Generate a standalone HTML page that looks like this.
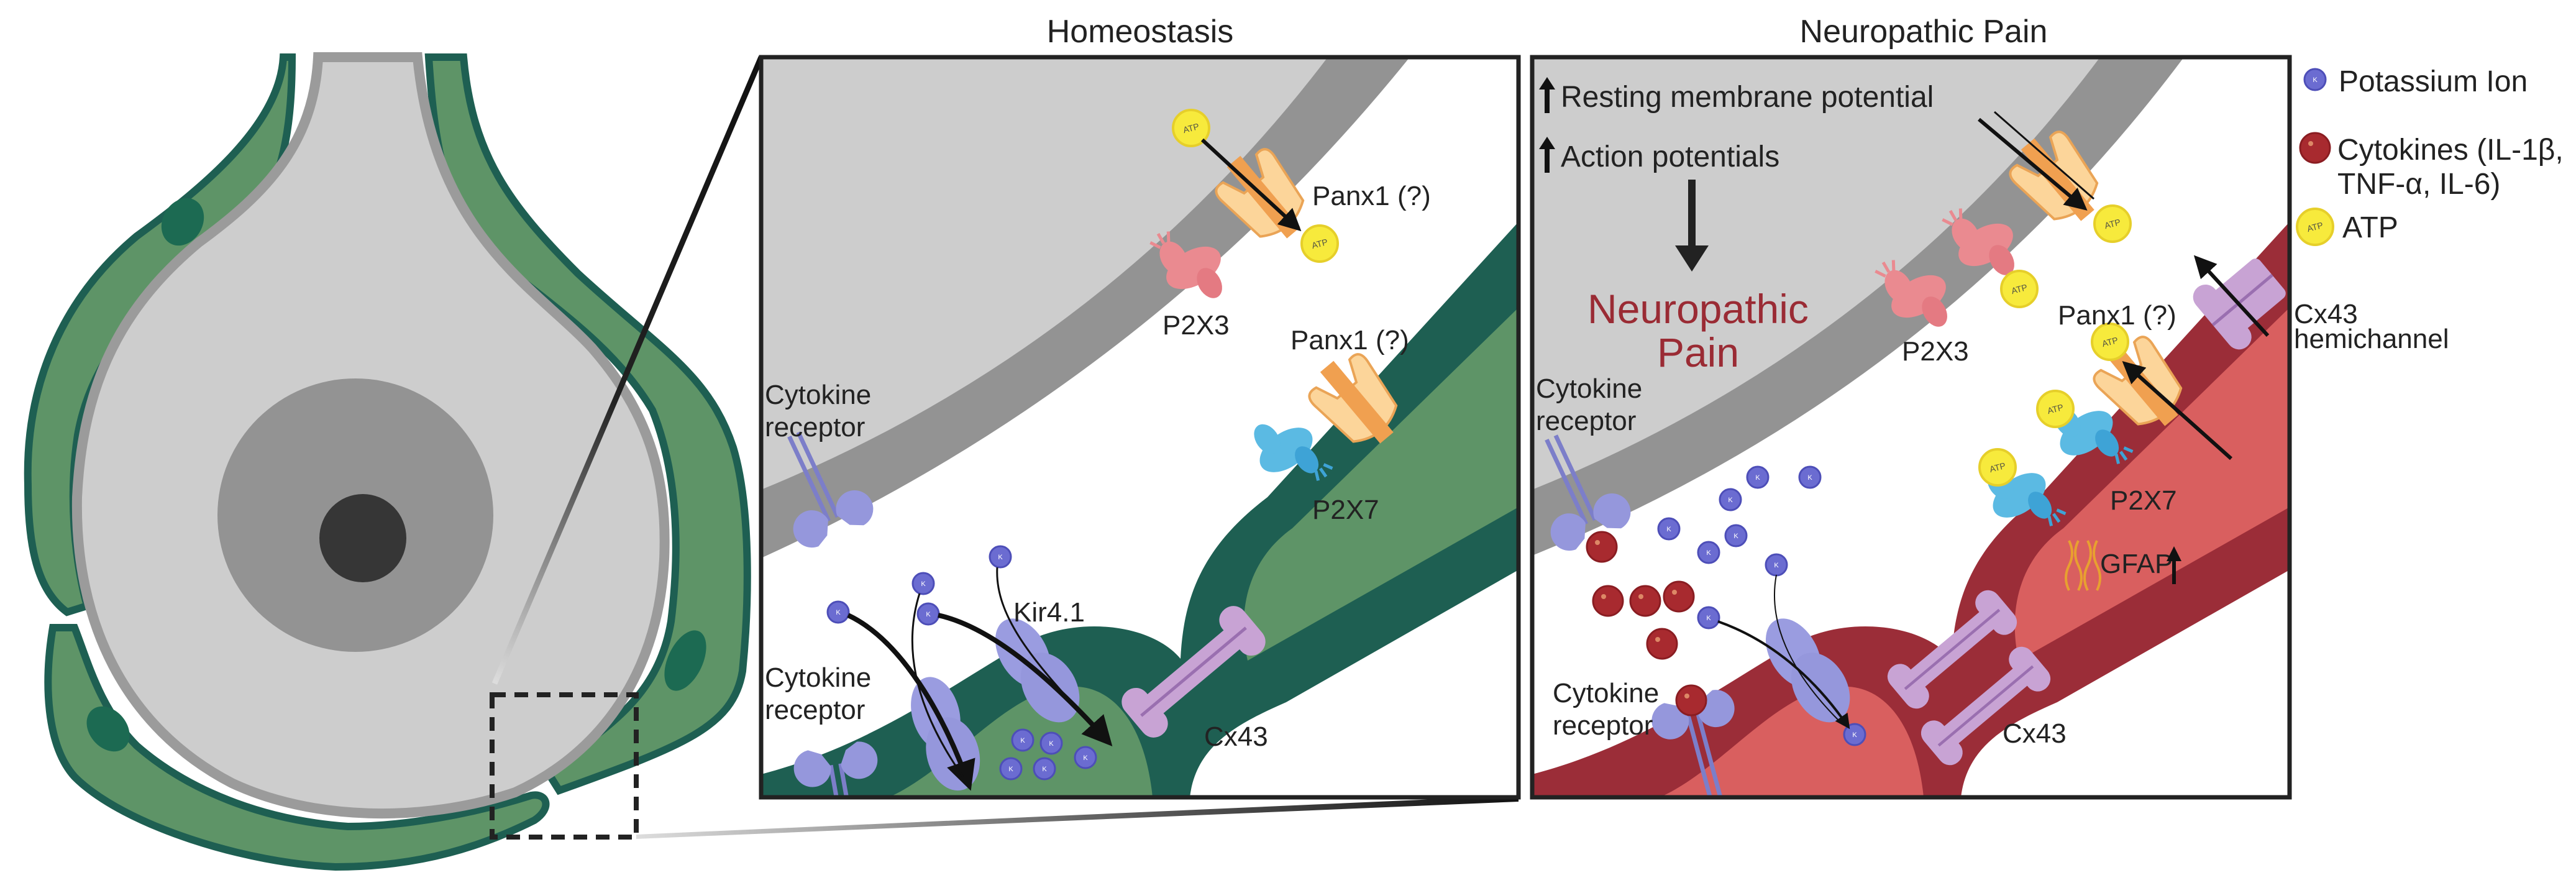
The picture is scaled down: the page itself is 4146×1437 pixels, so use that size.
<!DOCTYPE html>
<html><head><meta charset="utf-8"><style>
html,body{margin:0;padding:0;background:#fff}
svg{display:block}
text{font-family:"Liberation Sans",Arial,sans-serif;fill:#222}
</style></head><body>
<svg width="4146" height="1437" viewBox="0 0 4146 1437" xmlns="http://www.w3.org/2000/svg">
<defs>
<linearGradient id="lg1" x1="796" y1="1100" x2="1225" y2="92" gradientUnits="userSpaceOnUse"><stop offset="0" stop-color="#ddd"/><stop offset="0.45" stop-color="#222"/><stop offset="1" stop-color="#111"/></linearGradient>
<linearGradient id="lg2" x1="1024" y1="1345" x2="2444" y2="1285" gradientUnits="userSpaceOnUse"><stop offset="0" stop-color="#ddd"/><stop offset="0.5" stop-color="#666"/><stop offset="1" stop-color="#111"/></linearGradient>
<clipPath id="c1"><rect x="1225" y="92" width="1219" height="1191"/></clipPath>
<clipPath id="c2"><rect x="2466" y="92" width="1219" height="1191"/></clipPath>
<marker id="ah" markerWidth="6" markerHeight="6" refX="5" refY="3" orient="auto" markerUnits="strokeWidth"><path d="M0,0 L6,3 L0,6 Z" fill="#111"/></marker>
<marker id="ahs" markerWidth="4" markerHeight="4" refX="3" refY="2" orient="auto" markerUnits="strokeWidth"><path d="M0,0 L4,2 L0,4 Z" fill="#111"/></marker>
<g id="atp"><circle r="29" fill="#f7ea3c" stroke="#e6cf2a" stroke-width="4"/><text x="0" y="5" font-size="14" text-anchor="middle" transform="rotate(-15)" style="fill:#554">ATP</text></g>
<g id="k"><circle r="17" fill="#6b6cd1" stroke="#4d4eb8" stroke-width="3"/><text x="0" y="4" font-size="11" text-anchor="middle" style="fill:#fff">K</text></g>
<g id="cyt"><circle r="24" fill="#a82a2f" stroke="#8a1d22" stroke-width="3"/><circle cx="-7" cy="-7" r="4" fill="#d86"/></g>
<g id="panx"><path d="M-55,-40 Q-60,-70 -35,-65 L-20,-30 L20,-30 L35,-65 Q60,-70 55,-40 L45,40 Q0,70 -45,40 Z" fill="#fcd59a" stroke="#eaa456" stroke-width="4"/><rect x="-14" y="-80" width="28" height="150" fill="#f0a050"/></g>
<g id="p2x3"><ellipse cx="0" cy="0" rx="48" ry="28" fill="#ea8a90"/><ellipse cx="-20" cy="-30" rx="20" ry="28" fill="#ea8a90"/><ellipse cx="10" cy="34" rx="18" ry="26" fill="#e47a82"/><path d="M-30,-55 l-10,-15 M-22,-58 l0,-18 M-14,-56 l8,-15" stroke="#ea8a90" stroke-width="5"/></g>
<g id="p2x7"><ellipse cx="0" cy="0" rx="48" ry="28" fill="#5bbae3"/><ellipse cx="-15" cy="-32" rx="18" ry="26" fill="#5bbae3"/><ellipse cx="18" cy="32" rx="16" ry="24" fill="#3ea3d6"/><path d="M20,55 l-6,15 M28,56 l0,16 M36,54 l8,13" stroke="#3ea3d6" stroke-width="5"/></g>
<g id="kir"><ellipse cx="0" cy="-35" rx="38" ry="60" fill="#9a9ce0"/><ellipse cx="10" cy="35" rx="42" ry="60" fill="#9597dc"/></g>
<g id="cx"><rect x="-110" y="-20" width="220" height="40" rx="12" fill="#c8a3d4"/><rect x="-125" y="-45" width="45" height="90" rx="22" fill="#c8a3d4"/><rect x="80" y="-45" width="45" height="90" rx="22" fill="#c8a3d4"/><line x1="-110" y1="0" x2="110" y2="0" stroke="#9a6fb0" stroke-width="5"/></g>
<g id="hemi"><rect x="-55" y="-40" width="110" height="80" rx="10" fill="#c8a3d4"/><rect x="-70" y="-62" width="40" height="124" rx="20" fill="#c8a3d4"/><line x1="-70" y1="0" x2="55" y2="0" stroke="#9a6fb0" stroke-width="5"/></g>
<g id="rec"><line x1="-8" y1="-150" x2="-8" y2="0" stroke="#7c7ec9" stroke-width="7"/><line x1="8" y1="-150" x2="8" y2="0" stroke="#7c7ec9" stroke-width="7"/><path d="M-8,-2 A30,30 0 1,0 -40,30 L-20,20 Z" fill="#9597dc"/><path d="M8,-2 A30,30 0 1,1 40,30 L20,20 Z" fill="#9597dc"/></g>
<g id="up"><rect x="-4" y="-30" width="8" height="44" fill="#111"/><path d="M-13,-24 L0,-44 L13,-24 Z" fill="#111"/></g>
</defs>

<!-- LEFT CELL -->
<path d="M456,92 C450,200 330,300 220,380 C100,480 40,620 45,780 C45,880 60,950 108,985 L140,975 C120,900 110,800 125,700 C150,560 250,470 360,400 C440,340 470,250 470,92 Z" fill="#5e9467" stroke="#1e5f52" stroke-width="12"/>
<path d="M746,92 C760,250 820,330 930,440 C1060,560 1140,600 1180,720 C1210,820 1205,980 1195,1080 C1180,1170 1100,1200 900,1272 L880,1240 C980,1170 1060,1120 1080,1000 C1095,880 1090,760 1050,660 C990,560 900,500 800,420 C720,350 700,250 690,92 Z" fill="#5e9467" stroke="#1e5f52" stroke-width="12"/>
<path d="M85,1010 C70,1100 75,1200 120,1250 C200,1330 400,1390 540,1395 C680,1395 780,1360 860,1320 C890,1300 880,1275 855,1280 C760,1310 650,1330 560,1330 C420,1320 300,1270 220,1200 C160,1140 140,1060 120,1010 Z" fill="#5e9467" stroke="#1e5f52" stroke-width="12"/>
<ellipse cx="294" cy="357" rx="32" ry="40" fill="#1c6a52" transform="rotate(30 294 357)"/>
<ellipse cx="174" cy="1173" rx="30" ry="40" fill="#1c6a52" transform="rotate(-40 174 1173)"/>
<ellipse cx="1103" cy="1063" rx="28" ry="52" fill="#1c6a52" transform="rotate(25 1103 1063)"/>
<path d="M512,92 C505,230 430,310 320,390 C200,490 133,610 124,800 C120,1000 200,1170 373,1260 C500,1320 680,1325 829,1275 C970,1210 1060,1080 1069,900 C1075,760 1040,660 953,560 C860,460 700,380 672,92 Z" fill="#cdcdcd" stroke="#9b9b9b" stroke-width="16"/>
<ellipse cx="572" cy="829" rx="222" ry="220" fill="#939393"/>
<ellipse cx="584" cy="866" rx="70" ry="71" fill="#363636"/>
<rect x="792" y="1118" width="232" height="229" fill="none" stroke="#222" stroke-width="8" stroke-dasharray="22,14"/>
<line x1="796" y1="1100" x2="1225" y2="92" stroke="url(#lg1)" stroke-width="9"/>
<path d="M1024,1343 L2444,1280 L2444,1290 L1024,1350 Z" fill="url(#lg2)"/>

<text x="1835" y="68" font-size="52" text-anchor="middle">Homeostasis</text>
<text x="3096" y="68" font-size="52" text-anchor="middle">Neuropathic Pain</text>

<!-- HOMEOSTASIS PANEL -->
<g clip-path="url(#c1)">
<rect x="1225" y="92" width="1219" height="1191" fill="#fff"/>
<path d="M1225,92 L2269,92 Q1847,615 1225,898 Z" fill="#939393"/>
<path d="M1225,92 L2137,92 Q1781,560 1225,788 Z" fill="#cdcdcd"/>
<path d="M1225,1246 C1400,1200 1520,1110 1640,1040 C1720,990 1850,1000 1900,1060 C1905,960 1935,880 2040,800 L2444,357 L2444,917 L2070,1130 C1990,1165 1925,1200 1915,1283 L1225,1283 Z" fill="#1e5f52"/>
<path d="M1430,1283 C1530,1240 1620,1110 1720,1105 C1800,1100 1845,1180 1855,1283 Z" fill="#5e9467"/>
<path d="M2008,1063 C1990,980 2010,900 2080,850 L2444,495 L2444,816 Z" fill="#5e9467"/>
<use href="#p2x3" transform="translate(1921,431) rotate(-30)"/>
<use href="#panx" transform="translate(2037,321) rotate(-40)"/>
<use href="#atp" x="1917" y="206"/>
<use href="#atp" x="2124" y="392"/>
<line x1="1935" y1="225" x2="2090" y2="368" stroke="#111" stroke-width="6" marker-end="url(#ah)"/>
<use href="#panx" transform="translate(2187,651) rotate(-40)"/>
<use href="#p2x7" transform="translate(2070,724) rotate(-35)"/>
<use href="#rec" transform="translate(1341,835) rotate(-25)"/>
<use href="#rec" transform="translate(1345,1230) rotate(170)"/>
<use href="#kir" transform="translate(1664,1081) rotate(-30)"/>
<use href="#kir" transform="translate(1515,1182) rotate(-15)"/>
<use href="#cx" transform="translate(1921,1081) rotate(-40)"/>
<use href="#k" x="1349" y="985"/><use href="#k" x="1486" y="939"/><use href="#k" x="1494" y="988"/><use href="#k" x="1610" y="896"/>
<use href="#k" x="1646" y="1191"/><use href="#k" x="1692" y="1196"/><use href="#k" x="1627" y="1237"/><use href="#k" x="1681" y="1237"/><use href="#k" x="1747" y="1219"/>
<path d="M1365,990 C1450,1030 1520,1150 1560,1265" fill="none" stroke="#111" stroke-width="8" marker-end="url(#ah)"/>
<path d="M1480,955 C1450,1050 1480,1150 1550,1250" fill="none" stroke="#111" stroke-width="3"/>
<path d="M1510,990 C1600,1010 1700,1100 1785,1195" fill="none" stroke="#111" stroke-width="8" marker-end="url(#ah)"/>
<path d="M1605,913 C1600,1000 1680,1080 1760,1170" fill="none" stroke="#111" stroke-width="3"/>
<text x="2112" y="330" font-size="44">Panx1 (?)</text>
<text x="1871" y="538" font-size="44">P2X3</text>
<text x="2077" y="562" font-size="44">Panx1 (?)</text>
<text x="2112" y="835" font-size="44">P2X7</text>
<text x="1231" y="650" font-size="44">Cytokine</text>
<text x="1231" y="702" font-size="44">receptor</text>
<text x="1231" y="1105" font-size="44">Cytokine</text>
<text x="1231" y="1157" font-size="44">receptor</text>
<text x="1631" y="1000" font-size="44">Kir4.1</text>
<text x="1938" y="1200" font-size="44">Cx43</text>
</g>
<rect x="1225" y="92" width="1219" height="1191" fill="none" stroke="#222" stroke-width="7"/>

<!-- NEUROPATHIC PANEL -->
<g clip-path="url(#c2)">
<rect x="2466" y="92" width="1219" height="1191" fill="#fff"/>
<path d="M2466,92 L3515,92 Q3110,633 2466,894 Z" fill="#939393"/>
<path d="M2466,92 L3380,92 Q3030,560 2466,788 Z" fill="#cdcdcd"/>
<g transform="translate(1241,0)">
<path d="M1225,1246 C1400,1200 1520,1110 1640,1040 C1720,990 1850,1000 1900,1060 C1905,960 1935,880 2040,800 L2444,357 L2444,917 L2070,1130 C1990,1165 1925,1200 1915,1283 L1225,1283 Z" fill="#9b2d38"/>
<path d="M1430,1283 C1530,1240 1620,1110 1720,1105 C1800,1100 1845,1180 1855,1283 Z" fill="#d95f5f"/>
<path d="M2008,1063 C1990,980 2010,900 2080,850 L2444,495 L2444,816 Z" fill="#d95f5f"/>
</g>
<use href="#up" x="2490" y="168"/>
<use href="#up" x="2490" y="264"/>
<text x="2512" y="172" font-size="48">Resting membrane potential</text>
<text x="2512" y="268" font-size="48">Action potentials</text>
<line x1="2723" y1="289" x2="2723" y2="400" stroke="#222" stroke-width="12"/>
<path d="M2696,395 L2750,395 L2723,437 Z" fill="#222"/>
<text x="2733" y="520" font-size="66" text-anchor="middle" style="fill:#9a2b34">Neuropathic</text>
<text x="2733" y="590" font-size="66" text-anchor="middle" style="fill:#9a2b34">Pain</text>
<use href="#panx" transform="translate(3315,293) rotate(-40)"/>
<line x1="3185" y1="192" x2="3355" y2="335" stroke="#111" stroke-width="6" marker-end="url(#ah)"/>
<line x1="3210" y1="180" x2="3370" y2="320" stroke="#111" stroke-width="3"/>
<use href="#atp" x="3400" y="360"/>
<use href="#p2x3" transform="translate(3196,394) rotate(-30)"/>
<use href="#p2x3" transform="translate(3088,477) rotate(-30)"/>
<use href="#atp" x="3250" y="465"/>
<use href="#hemi" transform="translate(3615,478) rotate(-40)"/>
<line x1="3650" y1="540" x2="3535" y2="415" stroke="#111" stroke-width="6" marker-end="url(#ah)"/>
<use href="#panx" transform="translate(3450,623) rotate(-40)"/>
<use href="#atp" x="3396" y="550"/>
<line x1="3591" y1="738" x2="3420" y2="585" stroke="#111" stroke-width="6" marker-end="url(#ah)"/>
<use href="#p2x7" transform="translate(3358,697) rotate(-35)"/>
<use href="#p2x7" transform="translate(3250,797) rotate(-35)"/>
<use href="#atp" x="3308" y="658"/>
<use href="#atp" x="3215" y="752"/>
<g stroke="#e8a030" stroke-width="4" fill="none"><path d="M3330,870 q10,20 0,40 q-10,20 0,40"/><path d="M3345,870 q-10,20 0,40 q10,20 0,40"/><path d="M3360,870 q10,20 0,40 q-10,20 0,40"/><path d="M3375,870 q-10,20 0,40 q10,20 0,40"/></g>
<text x="3380" y="922" font-size="44">GFAP</text>
<line x1="3499" y1="940" x2="3499" y2="885" stroke="#111" stroke-width="6" marker-end="url(#ahs)"/>
<use href="#rec" transform="translate(2560,840) rotate(-25)"/>
<use href="#cyt" x="2578" y="880"/>
<use href="#rec" transform="translate(2725,1150) rotate(165)"/>
<use href="#cyt" x="2722" y="1127"/>
<use href="#k" x="2829" y="768"/><use href="#k" x="2913" y="768"/><use href="#k" x="2785" y="804"/><use href="#k" x="2686" y="851"/><use href="#k" x="2794" y="862"/><use href="#k" x="2750" y="889"/><use href="#k" x="2859" y="909"/><use href="#k" x="2750" y="994"/><use href="#k" x="2985" y="1182"/>
<use href="#cyt" x="2588" y="967"/><use href="#cyt" x="2648" y="967"/><use href="#cyt" x="2702" y="960"/><use href="#cyt" x="2675" y="1036"/>
<use href="#kir" transform="translate(2904,1081) rotate(-30)"/>
<path d="M2765,1000 C2850,1030 2920,1090 2975,1170" fill="none" stroke="#111" stroke-width="4" marker-end="url(#ah)"/>
<path d="M2859,925 C2845,1000 2880,1080 2960,1160" fill="none" stroke="#111" stroke-width="2"/>
<use href="#cx" transform="translate(3142,1045) rotate(-40) scale(0.9)"/>
<use href="#cx" transform="translate(3196,1136) rotate(-40) scale(0.9)"/>
<text x="3061" y="580" font-size="44">P2X3</text>
<text x="3312" y="522" font-size="44">Panx1 (?)</text>
<text x="3396" y="820" font-size="44">P2X7</text>
<text x="2472" y="640" font-size="44">Cytokine</text>
<text x="2472" y="692" font-size="44">receptor</text>
<text x="2499" y="1130" font-size="44">Cytokine</text>
<text x="2499" y="1182" font-size="44">receptor</text>
<text x="3223" y="1195" font-size="44">Cx43</text>
</g>
<rect x="2466" y="92" width="1219" height="1191" fill="none" stroke="#222" stroke-width="7"/>

<use href="#k" x="3726" y="128"/>
<text x="3764" y="147" font-size="48">Potassium Ion</text>
<use href="#cyt" x="3726" y="238"/>
<text x="3762" y="257" font-size="48">Cytokines (IL-1β,</text>
<text x="3762" y="312" font-size="48">TNF-α, IL-6)</text>
<use href="#atp" x="3726" y="365"/>
<text x="3770" y="382" font-size="48">ATP</text>
<text x="3692" y="520" font-size="44">Cx43</text>
<text x="3692" y="560" font-size="44">hemichannel</text>
</svg>
</body></html>
